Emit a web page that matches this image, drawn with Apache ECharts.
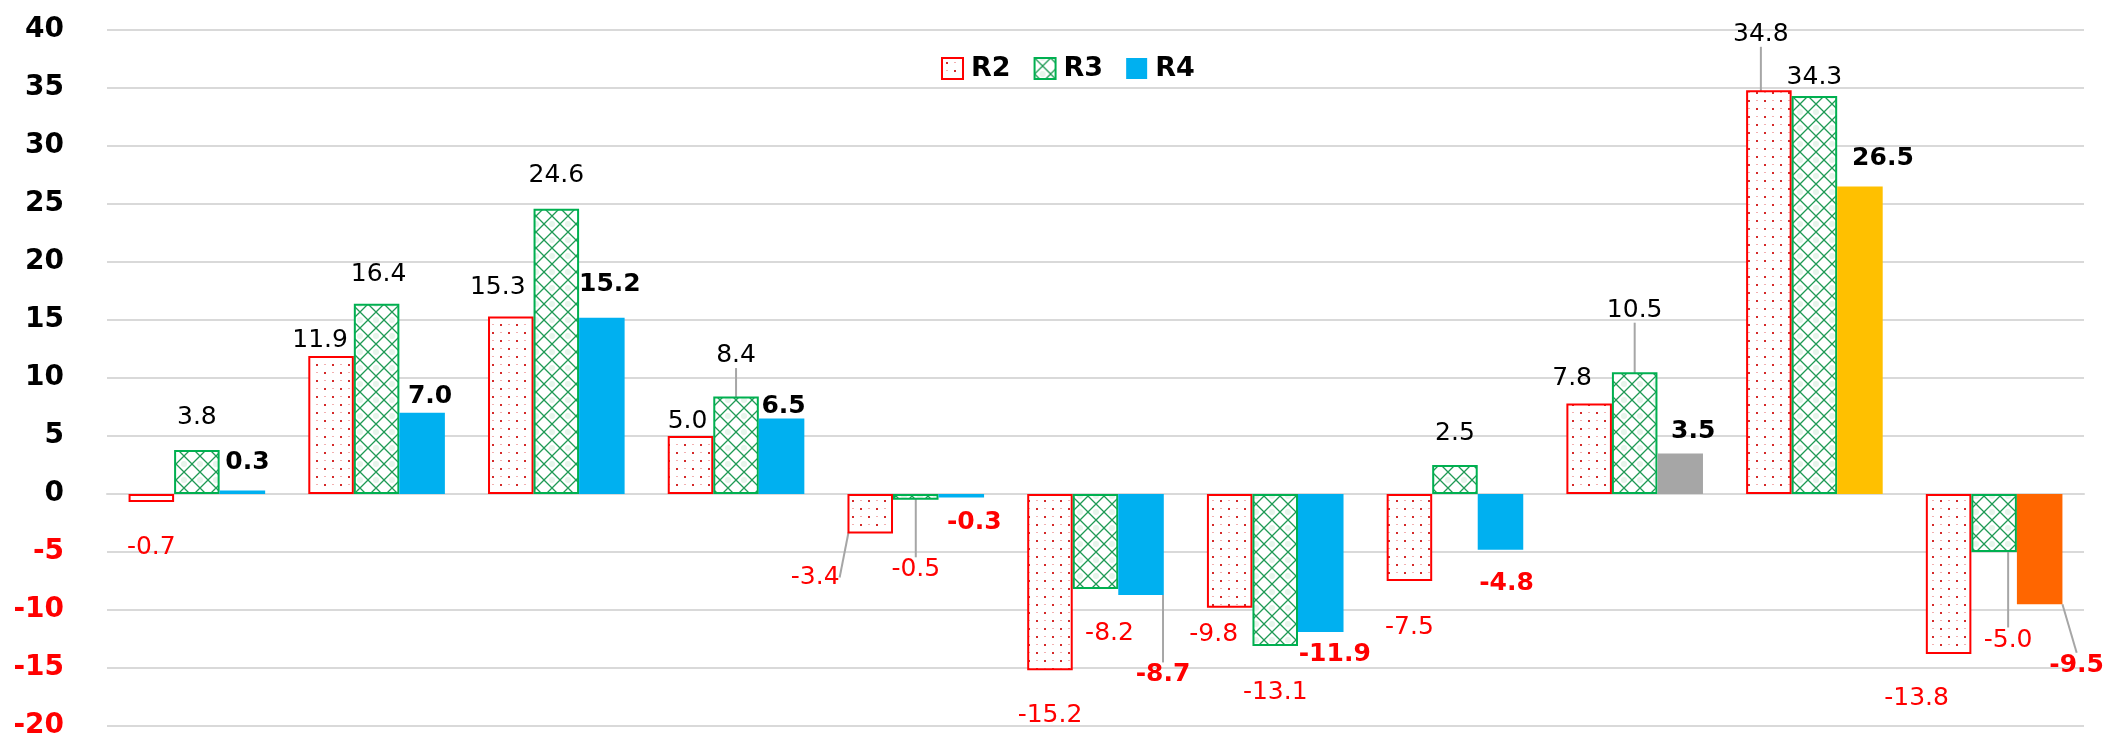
<!DOCTYPE html>
<html>
<head>
<meta charset="utf-8">
<title>R2 R3 R4</title>
<script src="https://cdn.jsdelivr.net/npm/echarts@6/dist/echarts.min.js"></script>
<style>
	html, body { margin: 0; padding: 0; background: #fff; }
	#main { width: 2109px; height: 740px; }
</style>
</head>
<body>
<div id="main"></div>
<script>
	// 数据
	var categories = ['1', '2', '3', '4', '5', '6', '7', '8', '9', '10', '11'];
	var r2 = [-0.7, 11.9, 15.3, 5.0, -3.4, -15.2, -9.8, -7.5, 7.8, 34.8, -13.8];
	var r3 = [3.8, 16.4, 24.6, 8.4, -0.5, -8.2, -13.1, 2.5, 10.5, 34.3, -5.0];
	var r4 = [0.3, 7.0, 15.2, 6.5, -0.3, -8.7, -11.9, -4.8, 3.5, 26.5, -9.5];
	var yMin = -20, yMax = 40, yStep = 5;

	// 样式
	var r4Colors = ['#00B0F0', '#00B0F0', '#00B0F0', '#00B0F0', '#00B0F0', '#00B0F0',
		'#00B0F0', '#00B0F0', '#A6A6A6', '#FFC000', '#FF6600'];
	// 标签相对柱端的偏移 [dx, dy]
	var labelShift = [
		[[0, 38], [-11, -22], [-13, -36], [-3, -22], [-55, 37], [0, 38], [-16, 20], [0, 39], [-17, -32], [-8, -63], [-32, 37]],
		[[0, -39], [2, -36], [0, -40], [0, -48], [0, 63], [14, 37], [0, 40], [0, -39], [0, -69], [0, -26], [14, 81]],
		[[5, -35], [8, -23], [8, -40], [2, -19], [13, 18], [22, 73], [14, 15], [6, 27], [13, -29], [23, -35], [37, 54]]
	];
	var yFix = 7; // 文字视觉中心修正
	// 有引导线的标签
	var leaderPad = {
		'1-3': [16, 8], '0-4': [4, 8], '1-4': [16, 8], '2-5': [16, 8],
		'1-8': [16, 8], '0-9': [16, 8], '1-10': [16, 8], '2-10': [16, 8]
	};

	var font = 'DejaVu Sans';
	var seriesVals = [r2, r3, r4];

	function makePattern(draw) {
		var c = document.createElement('canvas');
		c.width = 16;
		c.height = 16;
		var ctx = c.getContext('2d');
		ctx.fillStyle = '#ffffff';
		ctx.fillRect(0, 0, 16, 16);
		draw(ctx);
		return { image: c, repeat: 'repeat' };
	}

	var dotFill = makePattern(function (ctx) {
		ctx.fillStyle = '#d42a2a';
		ctx.fillRect(4, 4, 2, 2);
		ctx.fillRect(12, 12, 2, 2);
		ctx.fillStyle = '#f2b0b0';
		ctx.fillRect(12, 4, 2, 1);
		ctx.fillRect(4, 12, 2, 1);
	});

	var latticeFill = makePattern(function (ctx) {
		ctx.fillStyle = '#e6f5eb';
		ctx.beginPath();
		ctx.arc(8, 0, 3, 0, Math.PI * 2);
		ctx.arc(8, 16, 3, 0, Math.PI * 2);
		ctx.fill();
		ctx.strokeStyle = '#1f9a55';
		ctx.lineWidth = 1.3;
		ctx.beginPath();
		ctx.moveTo(0, 0); ctx.lineTo(16, 16);
		ctx.moveTo(16, 0); ctx.lineTo(0, 16);
		ctx.stroke();
	});

	function buildData(vals, si) {
		return vals.map(function (v, i) {
			var key = si + '-' + i;
			var item = {
				value: v,
				label: { color: v < 0 ? '#FF0000' : '#000000' }
			};
			if (si === 2) {
				item.itemStyle = { color: r4Colors[i] };
			}
			if (leaderPad[key]) {
				item.label.padding = leaderPad[key];
				item.labelLine = { show: true };
			}
			return item;
		});
	}

	function labelBase(bold) {
		return {
			show: true,
			fontFamily: font,
			fontSize: 25,
			fontWeight: bold ? 'bold' : 'normal',
			formatter: function (p) { return p.value.toFixed(1); }
		};
	}

	var lineBase = {
		show: false,
		length2: 0,
		lineStyle: { color: '#A6A6A6', width: 2 }
	};

	function placeLabel(p) {
		var s = labelShift[p.seriesIndex][p.dataIndex];
		var v = seriesVals[p.seriesIndex][p.dataIndex];
		var r = p.rect;
		var top = Math.min(r.y, r.y + r.height);
		var bottom = Math.max(r.y, r.y + r.height);
		return {
			x: r.x + r.width / 2 + s[0],
			y: (v >= 0 ? top : bottom) + s[1] + yFix,
			align: 'center',
			verticalAlign: 'middle'
		};
	}

	var chart = echarts.init(document.getElementById('main'));
	var option = {
		animation: false,
		backgroundColor: '#ffffff',
		grid: { left: 107, right: 25, top: 30, bottom: 6 },
		legend: {
			top: 50,
			left: 936,
			icon: 'rect',
			itemWidth: 21,
			itemHeight: 21,
			itemGap: 23,
			textStyle: { fontFamily: font, fontSize: 27, fontWeight: 'bold', color: '#000', padding: [0, 0, 0, 3] },
			data: ['R2', 'R3', 'R4']
		},
		xAxis: {
			type: 'category',
			data: categories,
			axisLine: { show: true, lineStyle: { color: '#D9D9D9', width: 2 } },
			axisTick: { show: false },
			axisLabel: { show: false },
			splitLine: { show: false }
		},
		yAxis: {
			type: 'value',
			min: yMin,
			max: yMax,
			interval: yStep,
			axisLine: { show: false },
			axisTick: { show: false },
			axisLabel: {
				margin: 43,
				fontFamily: font,
				fontSize: 28,
				fontWeight: 'bold',
				color: function (val) { return Number(val) < 0 ? '#FF0000' : '#000000'; }
			},
			splitLine: { lineStyle: { color: '#D9D9D9', width: 2 } }
		},
		series: [{
			name: 'R2',
			type: 'bar',
			barGap: '0%',
			barCategoryGap: '24%',
			data: buildData(r2, 0),
			itemStyle: { color: dotFill, borderColor: '#FF0000', borderWidth: 2 },
			label: labelBase(false),
			labelLine: lineBase,
			labelLayout: placeLabel,
			emphasis: { disabled: true }
		}, {
			name: 'R3',
			type: 'bar',
			barGap: '0%',
			barCategoryGap: '24%',
			data: buildData(r3, 1),
			itemStyle: { color: latticeFill, borderColor: '#00B050', borderWidth: 2 },
			label: labelBase(false),
			labelLine: lineBase,
			labelLayout: placeLabel,
			emphasis: { disabled: true }
		}, {
			name: 'R4',
			type: 'bar',
			barGap: '0%',
			barCategoryGap: '24%',
			data: buildData(r4, 2),
			itemStyle: { color: '#00B0F0' },
			label: labelBase(true),
			labelLine: lineBase,
			labelLayout: placeLabel,
			emphasis: { disabled: true }
		}]
	};
	chart.setOption(option);
</script>
</body>
</html>
